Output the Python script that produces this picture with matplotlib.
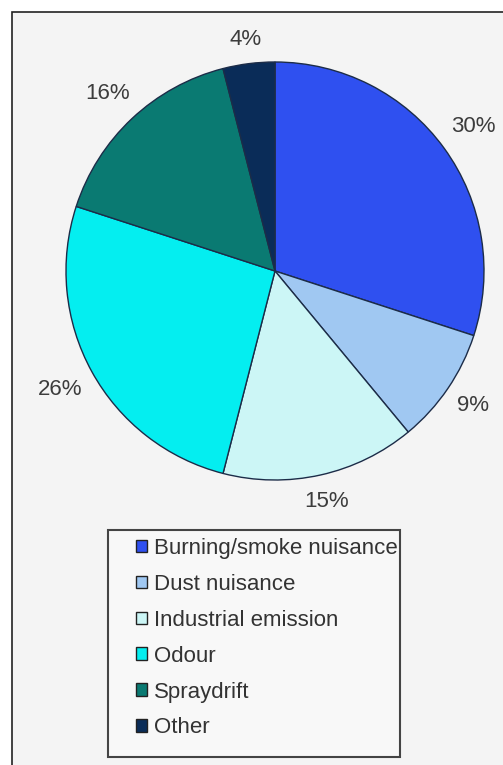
import numpy as np
import matplotlib.pyplot as plt
from matplotlib.patches import Patch, Rectangle

plt.rcParams['font.family'] = ['Liberation Sans', 'DejaVu Sans']

categories = ["Burning/smoke nuisance", "Dust nuisance", "Industrial emission",
              "Odour", "Spraydrift", "Other"]
shares = [30, 9, 15, 26, 16, 4]
colors = ["#2f50f0", "#a0c8f2", "#ccf6f6", "#04eef0", "#0a7a72", "#0a2c58"]

W, H = 503, 765
fig = plt.figure(figsize=(W / 100, H / 100), dpi=100)
fig.patch.set_facecolor("white")

# chart area frame
fig.patches.append(Rectangle((12 / W, -0.01), 1.0, 1 - 12 / H + 0.01,
                             transform=fig.transFigure, facecolor="#f4f4f4",
                             edgecolor="#222222", linewidth=1.2, zorder=-5))

cx, cy, r = 275, 271, 209
ax = fig.add_axes([(cx - r) / W, (H - cy - r) / H, 2 * r / W, 2 * r / H])
ax.set_zorder(2)

wedges, _ = ax.pie(shares, colors=colors, startangle=90, counterclock=False,
                   radius=1.0,
                   wedgeprops=dict(edgecolor="#1c2c48", linewidth=1.0))
ax.set_xlim(-1, 1)
ax.set_ylim(-1, 1)
ax.axis("off")

# percentage labels: keep a fixed gap between the rim and the text box
gap, half_h, char_w = 14, 9, 14
for w, v in zip(wedges, shares):
    lab = f"{v}%"
    ang = np.deg2rad((w.theta1 + w.theta2) / 2)
    half_w = char_w * len(lab) / 2
    ext = abs(np.cos(ang)) * half_w + abs(np.sin(ang)) * half_h
    dist = 1 + (gap + ext) / r
    ax.text(dist * np.cos(ang), dist * np.sin(ang), lab, ha="center",
            va="center", fontsize=16, color="#3c3c3c", clip_on=False)

# legend box
fig.patches.append(Rectangle((108 / W, (H - 757) / H), 292 / W, 227 / H,
                             transform=fig.transFigure, facecolor="#f8f8f8",
                             edgecolor="#444444", linewidth=1.5, zorder=1))

handles = [Patch(facecolor=c, edgecolor="#222222", linewidth=1.0) for c in colors]
leg = fig.legend(handles, categories, loc="upper left",
                 bbox_to_anchor=(136 / W, 1 - 538 / H),
                 fontsize=16, frameon=False,
                 handlelength=0.5, handleheight=0.5, handletextpad=0.3,
                 labelspacing=0.67, borderpad=0.0, borderaxespad=0)
leg.set_zorder(3)
for t in leg.get_texts():
    t.set_color("#333333")

fig.savefig("out.png", dpi=100)
